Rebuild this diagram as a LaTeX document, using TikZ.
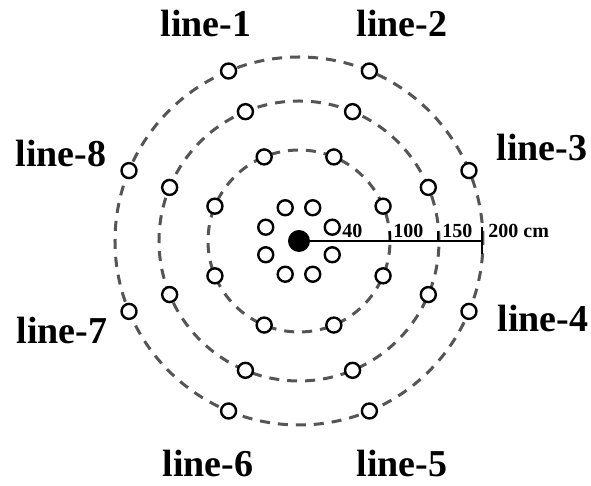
\documentclass[tikz,border=0pt]{standalone}
\usepackage{fontspec}
\setmainfont{Liberation Serif}
\usetikzlibrary{positioning}
\definecolor{ring}{HTML}{555555}

\begin{document}
\begin{tikzpicture}[x=0.5pt, y=0.5pt,
    ringline/.style={draw=ring, line width=1.5pt, dash pattern=on 5pt off 4pt},
    probe/.style={circle, draw=black, fill=white, line width=1.2pt, minimum size=7.5pt, inner sep=0pt},
    source/.style={circle, fill=black, minimum size=11pt, inner sep=0pt},
    linelabel/.style={font=\bfseries\fontsize{19}{22}\selectfont},
    scalelabel/.style={font=\bfseries\fontsize{10}{12}\selectfont, anchor=base west, inner sep=0pt}
]
    \useasboundingbox (-299,-245) rectangle (292,241);

    % Rings
    \foreach \r in {91,140,184}
        \draw[ringline] (0,0) circle[radius=\r];

    % Source and scale
    \node[source] (src) at (0,0) {};
    \coordinate (end) at (183,0);
    \draw[line width=1pt] (src) -- (end);
    \draw[line width=0.8pt] (91,0) -- (91,10);
    \draw[line width=0.8pt] (139,0) -- (139,10);
    \draw[line width=0.8pt] (end) ++(0,-13) -- ++(0,27);
    \node[scalelabel] (s40) at (43,3) {40};
    \node[scalelabel] (s100) at (94,3) {100};
    \node[scalelabel] (s150) at (143,3) {150};
    \node[scalelabel] (s200) at (189,3) {200 cm};

    % Probes
    \foreach \r/\n in {36/a,91/b,140/c,184/d}
        \foreach \k in {1,...,8}
            \node[probe] (\n\k) at ({112.5-45*(\k-1)}:\r) {};

    % Line labels
    \node[linelabel] (l1) at (-93,218) {line-1};
    \node[linelabel] (l2) at (103,218) {line-2};
    \node[linelabel] (l3) at (243,93) {line-3};
    \node[linelabel] (l4) at (244,-78) {line-4};
    \node[linelabel] (l5) at (103,-223) {line-5};
    \node[linelabel] (l6) at (-91,-223) {line-6};
    \node[linelabel] (l7) at (-237,-89) {line-7};
    \node[linelabel] (l8) at (-238,87) {line-8};
\end{tikzpicture}
\end{document}
